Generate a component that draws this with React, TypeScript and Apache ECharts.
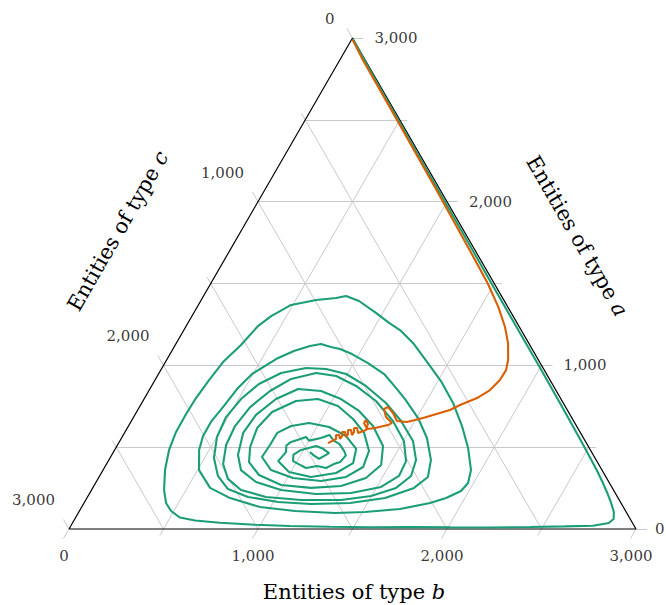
import React, { useEffect, useRef } from "react";
import * as echarts from "echarts";

// Ternary plot: a + b + c = 3000. Points stored as [a, b]; c = 3000 - a - b.
const TOTAL = 3000;
const gridValues = [500, 1000, 1500, 2000, 2500];
const tickValues = [0, 500, 1000, 1500, 2000, 2500, 3000];
const labeledTicks = [0, 1000, 2000, 3000];
const tickLabels = ["0", "1,000", "2,000", "3,000"];

const greenAB: [number, number][] = [
  [2995, 3], [2682, 310], [2267, 723], [1845, 1143], [1528, 1458], [1210, 1775], [996, 1989], [733, 2249],
  [525, 2453], [360, 2612], [287, 2679], [220, 2738], [159, 2789], [104, 2831], [61, 2851], [37, 2838],
  [20, 2762], [16, 2616], [12, 2433], [9, 2223], [10, 2011], [12, 1798], [11, 1587], [14, 1374], [18, 1160],
  [26, 971], [38, 780], [52, 641], [70, 552], [110, 485], [159, 434],
  [238, 384], [360, 328], [483, 288], [593, 270], [703, 268], [800, 272], [910, 286], [1020, 305], [1124, 348],
  [1240, 380], [1301, 419], [1369, 491], [1399, 608], [1411, 708], [1424, 754], [1393, 838], [1320, 964],
  [1259, 1064], [1210, 1152], [1130, 1260], [1014, 1392], [904, 1516], [770, 1647], [629, 1765], [495, 1864],
  [360, 1947], [281, 1971], [232, 1958], [189, 1901], [159, 1831], [122, 1690], [104, 1514], [98, 1358],
  [110, 1141], [134, 944], [189, 758], [251, 621],
  [360, 508], [483, 447], [568, 425], [654, 424], [752, 444], [862, 463], [947, 495], [1045, 584], [1088, 646],
  [1118, 716], [1130, 768], [1112, 830], [1100, 884], [1069, 963], [1014, 1075], [947, 1194], [862, 1299],
  [794, 1381], [678, 1508], [556, 1616], [422, 1704], [318, 1740], [251, 1700], [189, 1578], [159, 1408],
  [153, 1204], [165, 1024], [196, 849], [244, 719], [324, 626],
  [434, 550], [562, 502], [684, 489], [794, 513], [886, 562], [953, 646], [984, 762], [978, 871], [947, 993],
  [874, 1134], [770, 1292], [660, 1427], [538, 1551], [422, 1625], [324, 1648], [251, 1605], [202, 1497],
  [177, 1351], [177, 1140], [196, 944], [238, 791], [306, 688],
  [397, 617], [513, 575], [629, 564], [745, 586], [843, 642], [917, 717], [953, 831], [935, 946], [874, 1082],
  [782, 1233], [660, 1384], [538, 1503], [415, 1576], [324, 1584], [257, 1523], [220, 1382], [214, 1200],
  [238, 1003], [287, 846], [360, 730],
  [452, 668], [587, 628], [697, 641], [794, 698], [855, 785], [843, 912], [794, 1042], [721, 1174], [629, 1294],
  [507, 1408], [391, 1456], [312, 1415], [263, 1308], [251, 1155], [269, 988], [330, 840], [409, 748],
  [501, 708], [617, 687], [715, 717], [782, 810], [794, 920], [752, 1047], [672, 1167], [587, 1268], [477, 1349],
  [379, 1367], [318, 1307], [293, 1187], [312, 1029], [360, 889], [440, 801],
  [513, 807], [587, 808], [629, 861], [648, 946], [623, 1065], [568, 1182], [489, 1275], [403, 1302], [342, 1242],
  [318, 1121], [348, 990], [415, 899],
  [470, 913], [510, 895], [532, 909], [545, 940], [562, 973], [540, 1000], [556, 1055], [575, 1090], [538, 1133],
  [520, 1170], [477, 1217], [450, 1240], [409, 1230], [395, 1200], [373, 1174], [385, 1120], [373, 1068],
  [395, 1020], [415, 978], [455, 960], [483, 987], [507, 1054], [490, 1100], [464, 1144], [428, 1109],
  [450, 1070], [470, 1040],
];

const orangeAB: [number, number][] = [
  [2990, 5], [2866, 122], [2499, 486], [2071, 909], [1705, 1267], [1503, 1463], [1356, 1594], [1234, 1690],
  [1136, 1755], [1033, 1807], [971, 1827], [910, 1825], [849, 1803], [800, 1759], [758, 1690], [727, 1652],
  [678, 1534], [654, 1461], [660, 1405], [709, 1360], [745, 1316], [733, 1300], [684, 1335], [648, 1385],
  [635, 1370], [617, 1311], [611, 1272], [648, 1237], [666, 1238], [642, 1261], [605, 1269],
  [587, 1236], [617, 1216], [617, 1200], [593, 1212],
  [574, 1210], [605, 1190], [605, 1174], [580, 1186],
  [562, 1185], [593, 1164], [593, 1148], [568, 1161],
  [550, 1159], [574, 1142], [574, 1126], [550, 1138],
  [525, 1108],
];

const S3 = Math.sqrt(3) / 2;
const toXY = (a: number, b: number): [number, number] => [b + a / 2, a * S3];

const FONT = "DejaVu Serif";

function buildOption() {
  const gridSegs: [number, number][][] = [];
  gridValues.forEach((k) => {
    gridSegs.push([toXY(k, 0), toXY(k, TOTAL - k)]); // const a
    gridSegs.push([toXY(TOTAL - k, k), toXY(0, k)]); // const b
    gridSegs.push([toXY(0, TOTAL - k), toXY(TOTAL - k, 0)]); // const c
  });
  tickValues.forEach((k) => {
    const L = labeledTicks.includes(k) ? 58 : 40;
    gridSegs.push([toXY(k, TOTAL - k), toXY(k, TOTAL - k + L)]);
    gridSegs.push([toXY(0, k), toXY(-L, k)]);
    gridSegs.push([toXY(TOTAL - k, 0), toXY(TOTAL - k + L, -L)]);
  });

  const border = [toXY(0, 0), toXY(0, TOTAL), toXY(TOTAL, 0), toXY(0, 0)];

  const bLabels = labeledTicks.map((k, i) => ({
    value: toXY(0, k),
    name: tickLabels[i],
    label: { offset: [-5, 27], align: "center" },
  }));
  const aLabels = labeledTicks.map((k, i) => ({
    value: toXY(k, TOTAL - k),
    name: tickLabels[i],
    label: { offset: k === 0 ? [19, 0] : [22, 0], align: "left" },
  }));
  const cLabels = labeledTicks.map((k, i) => ({
    value: toXY(TOTAL - k, 0),
    name: tickLabels[i],
    label: { offset: k === 0 ? [-18, -19] : [-14, -29], align: "right" },
  }));

  const titleStyle = (t: string) => ({
    text: `Entities of type {i|${t}}`,
    fontFamily: FONT,
    fontSize: 21,
    fill: "#000",
    align: "center",
    verticalAlign: "middle",
    rich: { i: { fontStyle: "italic", fontFamily: FONT, fontSize: 21, fill: "#000" } },
  });

  return {
    animation: false,
    backgroundColor: "#fff",
    grid: { left: 69, top: 38, width: 567, height: 491 },
    xAxis: { type: "value", min: 0, max: TOTAL, show: false },
    yAxis: { type: "value", min: 0, max: TOTAL * S3, show: false },
    series: [
      {
        type: "lines",
        coordinateSystem: "cartesian2d",
        clip: false,
        silent: true,
        z: 1,
        lineStyle: { color: "#c9c9c9", width: 1, opacity: 1 },
        data: gridSegs.map((s) => ({ coords: s })),
      },
      {
        type: "line",
        clip: false,
        silent: true,
        z: 2,
        showSymbol: false,
        lineStyle: { color: "#000", width: 1.2 },
        data: border,
      },
      {
        type: "line",
        name: "green",
        clip: false,
        z: 3,
        showSymbol: false,
        lineStyle: { color: "#1b9e77", width: 2.1 },
        data: greenAB.map(([a, b]) => toXY(a, b)),
      },
      {
        type: "line",
        name: "orange",
        clip: false,
        z: 4,
        showSymbol: false,
        lineStyle: { color: "#d95f02", width: 2.1 },
        data: orangeAB.map(([a, b]) => toXY(a, b)),
      },
      {
        type: "scatter",
        clip: false,
        silent: true,
        symbolSize: 0,
        z: 5,
        label: {
          show: true,
          position: "inside",
          formatter: "{b}",
          color: "#000",
          fontFamily: FONT,
          fontSize: 15,
          verticalAlign: "middle",
        },
        data: [...bLabels, ...aLabels, ...cLabels],
      },
    ],
    graphic: [
      { type: "text", x: 354, y: 592, style: titleStyle("b") },
      { type: "text", x: 118, y: 231, rotation: Math.PI / 3, style: titleStyle("c") },
      { type: "text", x: 577, y: 236, rotation: -Math.PI / 3, style: titleStyle("a") },
    ],
  };
}

export default function App() {
  const ref = useRef<HTMLDivElement>(null);
  useEffect(() => {
    const chart = echarts.init(ref.current!, null, { renderer: "svg" });
    chart.setOption(buildOption() as any);
    return () => chart.dispose();
  }, []);
  return (
    <div
      ref={ref}
      style={{ position: "fixed", left: 0, top: 0, width: 666, height: 605, background: "#fff" }}
    />
  );
}
